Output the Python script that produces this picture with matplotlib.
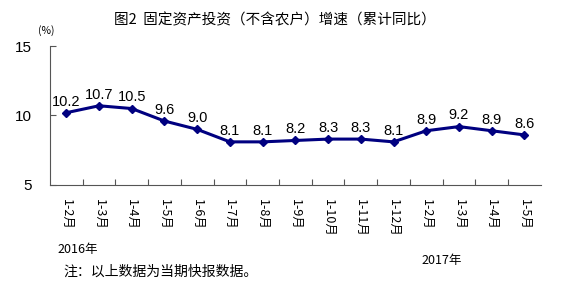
import matplotlib.pyplot as plt

plt.rcParams['font.family'] = ['Noto Sans CJK SC', 'DejaVu Sans']

months = ["1-2月", "1-3月", "1-4月", "1-5月", "1-6月", "1-7月", "1-8月", "1-9月",
          "1-10月", "1-11月", "1-12月", "1-2月", "1-3月", "1-4月", "1-5月"]
growth = [10.2, 10.7, 10.5, 9.6, 9.0, 8.1, 8.1, 8.2, 8.3, 8.3, 8.1, 8.9, 9.2, 8.9, 8.6]
yticks = [5, 10, 15]

fig = plt.figure(figsize=(5.61, 2.88), dpi=100)
ax = fig.add_axes([0.089, 0.358, 0.875, 0.482])

x = list(range(len(growth)))
ax.plot(x, growth, color='#000080', lw=2.2, marker='D', ms=4.5)
for xi, v in zip(x, growth):
    ax.text(xi, v + 0.3, f"{v:.1f}", ha='center', va='bottom',
            fontsize=10.5, family=['Liberation Sans', 'DejaVu Sans'], color='black')

ax.set_xlim(-0.5, len(growth) - 0.5)
ax.set_ylim(5, 15)
ax.set_yticks(yticks)
ax.set_yticklabels([str(t) for t in yticks], fontsize=11,
                   family=['Liberation Sans', 'DejaVu Sans'])
ax.tick_params(axis='y', direction='in', length=4, pad=13, width=0.8, color='#555555')

# ticks sit between categories, labels at category centers
ax.set_xticks([i + 0.5 for i in range(len(growth) - 1)])
ax.set_xticklabels([])
ax.set_xticks(x, minor=True)
ax.set_xticklabels(months, minor=True, rotation=270, fontsize=9)
ax.tick_params(axis='x', which='major', direction='in', length=4, width=0.8, color='#555555')
ax.tick_params(axis='x', which='minor', length=0, pad=10)

for s in ['top', 'right']:
    ax.spines[s].set_visible(False)
for s in ['left', 'bottom']:
    ax.spines[s].set_color('#555555')
    ax.spines[s].set_linewidth(0.8)

fig.text(0.49, 0.93, "图2  固定资产投资（不含农户）增速（累计同比）",
         ha='center', va='center', fontsize=10.5)
fig.text(0.068, 0.895, "(%)", ha='left', va='center', fontsize=7.5)
fig.text(0.103, 0.135, "2016年", ha='left', va='center', fontsize=9)
fig.text(0.752, 0.095, "2017年", ha='left', va='center', fontsize=9)
fig.text(0.113, 0.055, "注：以上数据为当期快报数据。", ha='left', va='center', fontsize=10)

fig.savefig("out.png", dpi=100)
